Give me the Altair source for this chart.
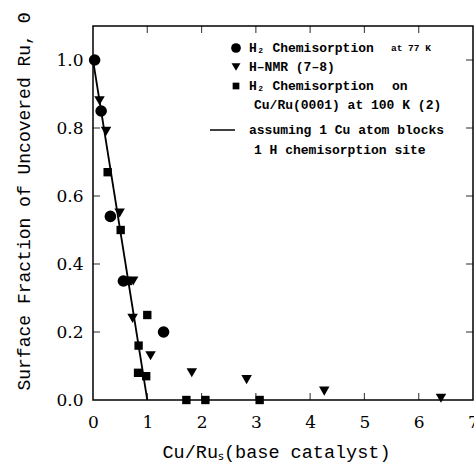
import altair as alt
import pandas as pd

# ---- data ----
circle_x = [0.03, 0.15, 0.32, 0.56, 1.30]
circle_y = [1.00, 0.85, 0.54, 0.35, 0.20]

tri_x = [0.12, 0.24, 0.49, 0.74, 0.73, 1.06, 1.82, 2.83, 4.26, 6.41]
tri_y = [0.88, 0.79, 0.55, 0.35, 0.24, 0.13, 0.08, 0.06, 0.026, 0.005]

sq_x = [0.27, 0.51, 0.64, 0.84, 0.83, 0.98, 1.00, 1.72, 2.07, 3.07]
sq_y = [0.67, 0.50, 0.35, 0.16, 0.08, 0.07, 0.25, 0.0, 0.0, 0.0]

line_x = [0.0, 1.0]
line_y = [1.0, 0.0]

x_ticks = [0, 1, 2, 3, 4, 5, 6, 7]
y_ticks = [0.0, 0.2, 0.4, 0.6, 0.8, 1.0]
x_inner = [1, 2, 3, 4, 5, 6]
y_inner = [0.2, 0.4, 0.6, 0.8, 1.0]

x_title = "Cu/Ruₛ(base catalyst)"
y_title = "Surface Fraction of Uncovered Ru, Θ"

legend_rows = [
    "H₂ Chemisorption",
    "H\u2013NMR (7\u20138)",
    "H₂ Chemisorption",
    "Cu/Ru(0001) at 100 K (2)",
    "assuming 1 Cu atom blocks",
    "1 H chemisorption site",
]

# ---- scales / axes ----
XMAX, YMAX = 7, 1.1
xs = alt.Scale(domain=[0, XMAX], nice=False, zero=False)
ys = alt.Scale(domain=[0, YMAX], nice=False, zero=False)

LABEL_FONT = "DejaVu Serif"
TITLE_FONT = "Liberation Mono"
LEG_FONT = "Liberation Mono"

xaxis = alt.Axis(values=x_ticks, format="d", ticks=False, domain=False, grid=False,
                 labelFont=LABEL_FONT, labelFontSize=17, labelColor="black",
                 labelPadding=14, labelFlush=False,
                 title=x_title, titleFont=TITLE_FONT, titleFontSize=18.5,
                 titleFontWeight="normal", titleColor="black", titlePadding=12,
                 titleX=183)
yaxis = alt.Axis(values=y_ticks, format=".1f", ticks=False, domain=False, grid=False,
                 labelFont=LABEL_FONT, labelFontSize=17, labelColor="black",
                 labelPadding=10, labelFlush=False,
                 title=y_title, titleFont=TITLE_FONT, titleFontSize=18,
                 titleFontWeight="normal", titleColor="black", titlePadding=22,
                 titleY=175)

X = alt.X("x:Q", scale=xs, axis=xaxis)
Y = alt.Y("y:Q", scale=ys, axis=yaxis)

line = alt.Chart(pd.DataFrame({"x": line_x, "y": line_y})).mark_line(
    color="black", strokeWidth=1.8).encode(x=X, y=Y)

circles = alt.Chart(pd.DataFrame({"x": circle_x, "y": circle_y})).mark_point(
    shape="circle", filled=True, size=135, color="black", opacity=1).encode(x=X, y=Y)
tris = alt.Chart(pd.DataFrame({"x": tri_x, "y": tri_y})).mark_point(
    shape="triangle-down", filled=True, size=110, color="black", opacity=1).encode(x=X, y=Y)
squares = alt.Chart(pd.DataFrame({"x": sq_x, "y": sq_y})).mark_point(
    shape="square", filled=True, size=70, color="black", opacity=1).encode(x=X, y=Y)

# inward tick marks on all four sides
TL = 7
bottom_t = alt.Chart(pd.DataFrame({"x": x_inner, "y": [0] * len(x_inner)})).mark_tick(
    orient="vertical", size=TL, thickness=1.2, color="black", yOffset=-TL / 2).encode(x=X, y=Y)
top_t = alt.Chart(pd.DataFrame({"x": x_inner, "y": [YMAX] * len(x_inner)})).mark_tick(
    orient="vertical", size=TL, thickness=1.2, color="black", yOffset=TL / 2).encode(x=X, y=Y)
left_t = alt.Chart(pd.DataFrame({"x": [0] * len(y_inner), "y": y_inner})).mark_tick(
    orient="horizontal", size=TL, thickness=1.2, color="black", xOffset=TL / 2).encode(x=X, y=Y)
right_t = alt.Chart(pd.DataFrame({"x": [XMAX] * len(y_inner), "y": y_inner})).mark_tick(
    orient="horizontal", size=TL, thickness=1.2, color="black", xOffset=-TL / 2).encode(x=X, y=Y)

# ---- hand-built legend (pixel positions inside the plot area) ----
one = pd.DataFrame({"k": [0]})


def txt(s, x, y, size=13, weight="bold"):
    return alt.Chart(one).mark_text(text=s, align="left", baseline="middle", font=LEG_FONT,
                                    fontSize=size, fontWeight=weight, color="black").encode(
        x=alt.value(x), y=alt.value(y))


def sym(shape, size, x, y):
    return alt.Chart(one).mark_point(shape=shape, filled=True, size=size, color="black",
                                     opacity=1).encode(x=alt.value(x), y=alt.value(y))


MX, TX, TX2 = 143, 156, 161
legend = [
    sym("circle", 95, MX, 22),
    sym("triangle-down", 80, MX, 41),
    sym("square", 45, MX, 60),
    txt(legend_rows[0], TX, 22),
    txt("at 77 K", 298, 22, size=9.5),
    txt(legend_rows[1], TX, 41),
    txt(legend_rows[2], TX, 60),
    txt("on", 299, 60),
    txt(legend_rows[3], TX2, 79),
    alt.Chart(one).mark_rule(color="black", strokeWidth=1.5).encode(
        x=alt.value(117), x2=alt.value(142), y=alt.value(104)),
    txt(legend_rows[4], TX, 104),
    txt(legend_rows[5], TX2, 124),
]

chart = alt.layer(line, circles, tris, squares, bottom_t, top_t, left_t, right_t, *legend).properties(
    width=380, height=374,
    padding={"left": 93, "top": 26, "right": 1, "bottom": 65},
    autosize="none",
).configure_view(stroke="black", strokeWidth=1.5)

chart.save("out.html", embed_options={"renderer": "svg", "actions": False})
